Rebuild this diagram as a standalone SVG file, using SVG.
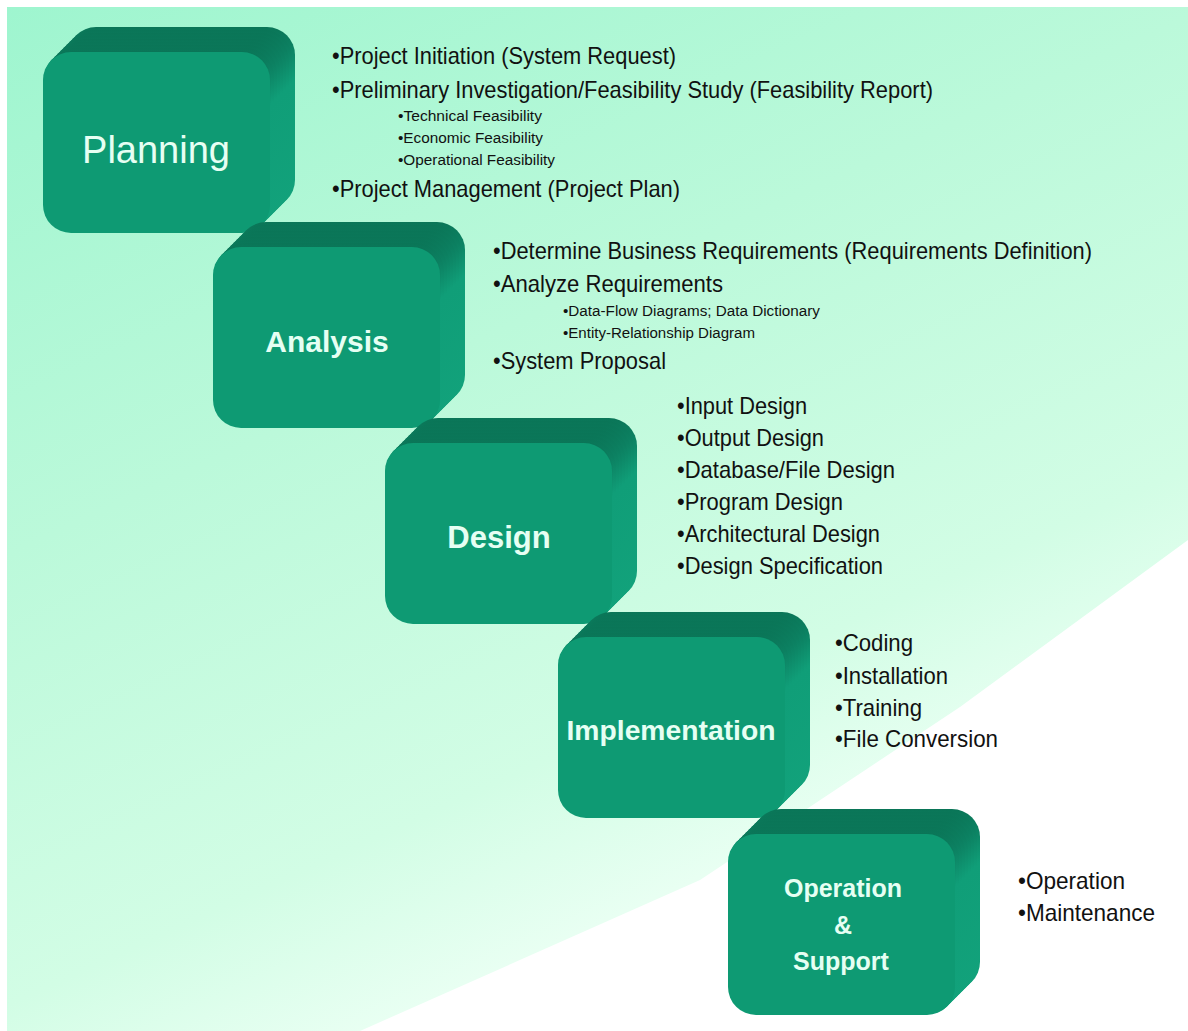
<svg xmlns="http://www.w3.org/2000/svg" xmlns:xlink="http://www.w3.org/1999/xlink" width="1188" height="1031" viewBox="0 0 1188 1031">
<defs>
<linearGradient id="bgGrad" gradientUnits="userSpaceOnUse" x1="0" y1="0" x2="500" y2="1100">
<stop offset="0" stop-color="#9ef5cf"/>
<stop offset="0.42" stop-color="#bbf9da"/>
<stop offset="0.76" stop-color="#d2fde5"/>
<stop offset="0.9" stop-color="#e8fff2"/>
<stop offset="1" stop-color="#f4fff9"/>
</linearGradient>
<linearGradient id="extGrad" x1="0" y1="0" x2="0" y2="1">
<stop offset="0" stop-color="#0a7557"/>
<stop offset="0.1" stop-color="#0c8061"/>
<stop offset="0.3" stop-color="#109e78"/>
<stop offset="1" stop-color="#12a27b"/>
</linearGradient>
<style>
.ext{fill:url(#extGrad)}
.face{fill:#0e9a73}
.lbl{font-family:"Liberation Sans",Arial,sans-serif;fill:#e6fff3;text-anchor:middle;font-weight:bold}
.it{font-family:"Liberation Sans",Arial,sans-serif;font-size:24px;fill:#111}
.sub{font-family:"Liberation Sans",Arial,sans-serif;font-size:14px;fill:#111}
</style>
<g id="box3d">
<rect class="ext" x="25" y="-25" width="227" height="181" rx="28"/>
<rect class="ext" x="22" y="-22" width="227" height="181" rx="28"/>
<rect class="ext" x="19" y="-19" width="227" height="181" rx="28"/>
<rect class="ext" x="16" y="-16" width="227" height="181" rx="28"/>
<rect class="ext" x="13" y="-13" width="227" height="181" rx="28"/>
<rect class="ext" x="10" y="-10" width="227" height="181" rx="28"/>
<rect class="ext" x="7" y="-7" width="227" height="181" rx="28"/>
<rect class="ext" x="4" y="-4" width="227" height="181" rx="28"/>
<rect class="ext" x="1" y="-1" width="227" height="181" rx="28"/>
<rect class="face" x="0" y="0" width="227" height="181" rx="28"/>
</g>
</defs>
<rect x="0" y="0" width="1188" height="1031" fill="#ffffff"/>
<rect x="7" y="7" width="1181" height="1024" fill="url(#bgGrad)"/>
<polygon points="1188,540 960,707 700,880 360,1031 1188,1031" fill="#ffffff"/>
<g id="connectors"/>
<g id="planning">
<use href="#box3d" x="43" y="52"/>
<text x="156" y="163" class="lbl" style="font-weight:normal;font-size:38px">Planning</text>
<text class="it" x="332" y="64" textLength="344" lengthAdjust="spacingAndGlyphs">•Project Initiation (System Request)</text>
<text class="it" x="332" y="98" textLength="601" lengthAdjust="spacingAndGlyphs">•Preliminary Investigation/Feasibility Study (Feasibility Report)</text>
<text class="sub" x="398" y="121" textLength="144" lengthAdjust="spacingAndGlyphs">•Technical Feasibility</text>
<text class="sub" x="398" y="143" textLength="145" lengthAdjust="spacingAndGlyphs">•Economic Feasibility</text>
<text class="sub" x="398" y="165" textLength="157" lengthAdjust="spacingAndGlyphs">•Operational Feasibility</text>
<text class="it" x="332" y="197" textLength="348" lengthAdjust="spacingAndGlyphs">•Project Management (Project Plan)</text>
</g>
<g id="analysis">
<use href="#box3d" x="213" y="247"/>
<text x="327" y="352" class="lbl" style="font-size:30px">Analysis</text>
<text class="it" x="493" y="259" textLength="599" lengthAdjust="spacingAndGlyphs">•Determine Business Requirements (Requirements Definition)</text>
<text class="it" x="493" y="292" textLength="230" lengthAdjust="spacingAndGlyphs">•Analyze Requirements</text>
<text class="sub" x="563" y="316" textLength="257" lengthAdjust="spacingAndGlyphs">•Data-Flow Diagrams; Data Dictionary</text>
<text class="sub" x="563" y="338" textLength="192" lengthAdjust="spacingAndGlyphs">•Entity-Relationship  Diagram</text>
<text class="it" x="493" y="369" textLength="173" lengthAdjust="spacingAndGlyphs">•System Proposal</text>
</g>
<g id="design">
<use href="#box3d" x="385" y="443"/>
<text x="499" y="548" class="lbl" style="font-size:31px">Design</text>
<text class="it" x="677" y="414" textLength="130" lengthAdjust="spacingAndGlyphs">•Input Design</text>
<text class="it" x="677" y="446" textLength="147" lengthAdjust="spacingAndGlyphs">•Output Design</text>
<text class="it" x="677" y="478" textLength="218" lengthAdjust="spacingAndGlyphs">•Database/File Design</text>
<text class="it" x="677" y="510" textLength="166" lengthAdjust="spacingAndGlyphs">•Program Design</text>
<text class="it" x="677" y="542" textLength="203" lengthAdjust="spacingAndGlyphs">•Architectural Design</text>
<text class="it" x="677" y="574" textLength="206" lengthAdjust="spacingAndGlyphs">•Design Specification</text>
</g>
<g id="implementation">
<use href="#box3d" x="558" y="637"/>
<text x="671" y="740" class="lbl" style="font-size:28px" textLength="209" lengthAdjust="spacingAndGlyphs">Implementation</text>
<text class="it" x="835" y="651" textLength="78" lengthAdjust="spacingAndGlyphs">•Coding</text>
<text class="it" x="835" y="684" textLength="113" lengthAdjust="spacingAndGlyphs">•Installation</text>
<text class="it" x="835" y="716" textLength="87" lengthAdjust="spacingAndGlyphs">•Training</text>
<text class="it" x="835" y="747" textLength="163" lengthAdjust="spacingAndGlyphs">•File Conversion</text>
</g>
<g id="operation">
<use href="#box3d" x="728" y="834"/>
<text x="843" y="897" class="lbl" style="font-size:25px">Operation</text>
<text x="843" y="934" class="lbl" style="font-size:25px">&amp;</text>
<text x="841" y="970" class="lbl" style="font-size:25px">Support</text>
<text class="it" x="1018" y="889" textLength="107" lengthAdjust="spacingAndGlyphs">•Operation</text>
<text class="it" x="1018" y="921" textLength="137" lengthAdjust="spacingAndGlyphs">•Maintenance</text>
</g>
</svg>
